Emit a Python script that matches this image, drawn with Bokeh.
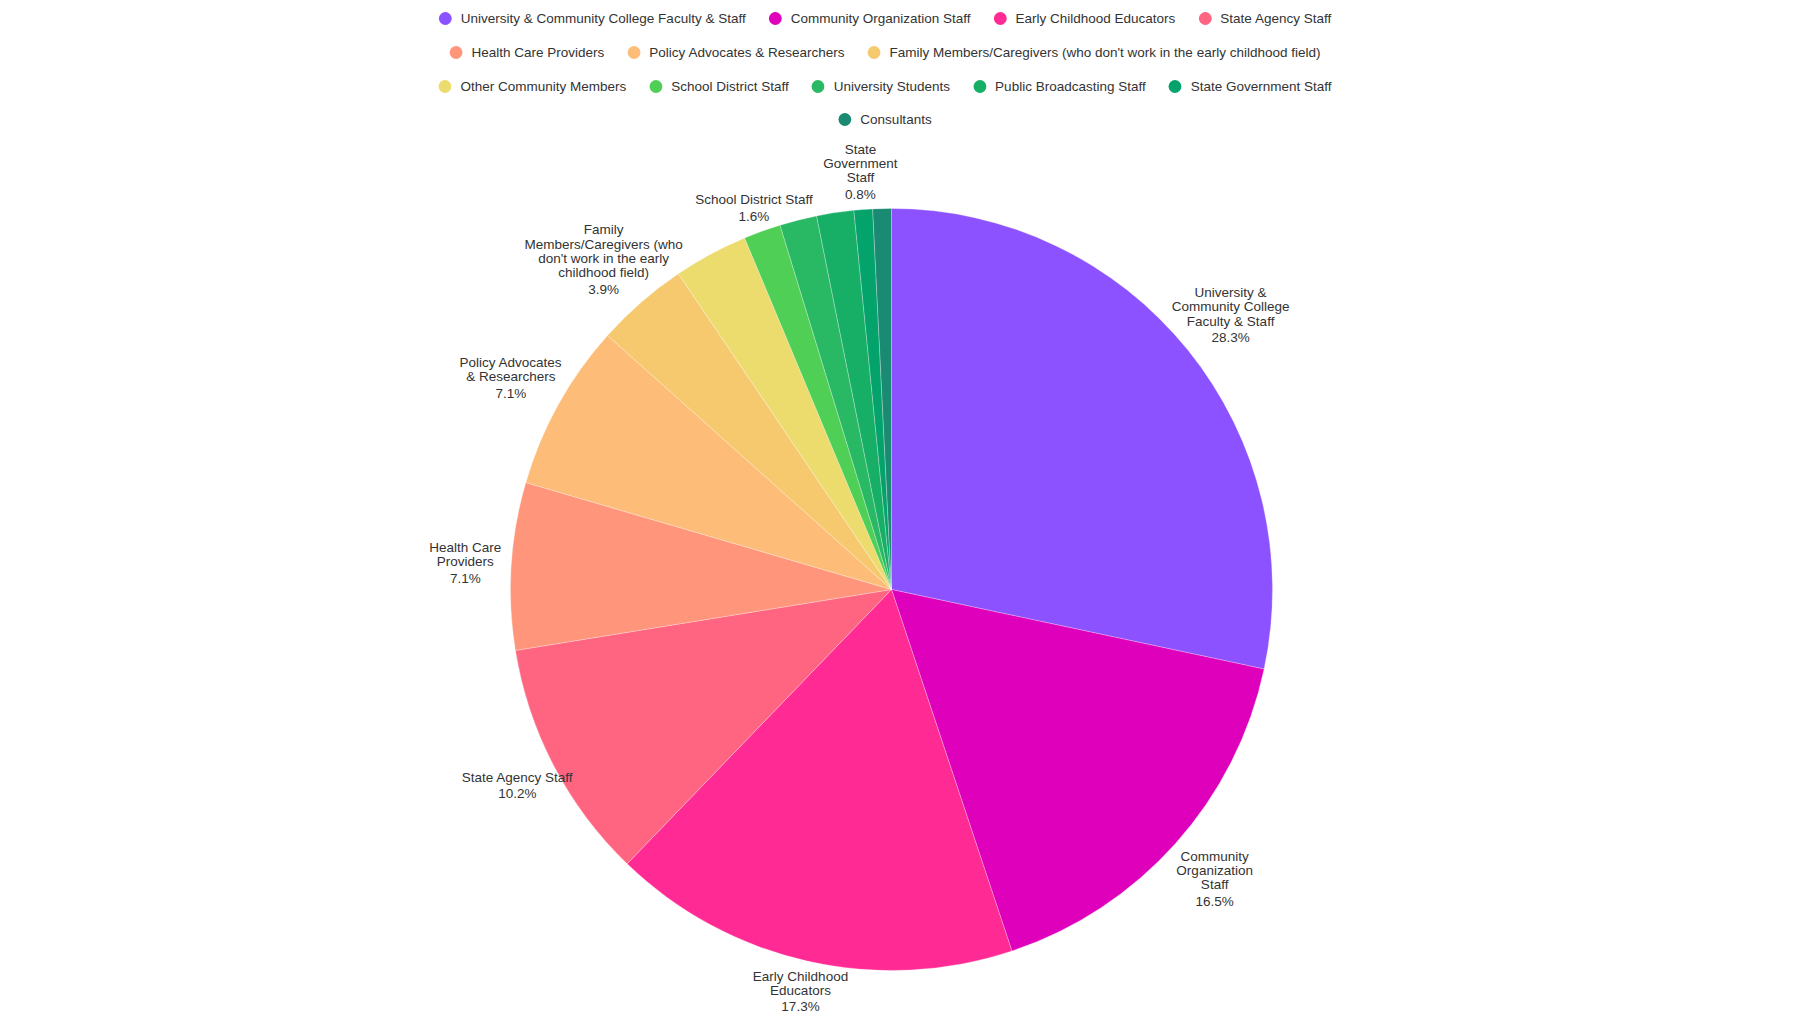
import numpy as np
from bokeh.plotting import figure
from bokeh.models import ColumnDataSource, Legend, LegendItem, Range1d
from bokeh.embed import file_html
from bokeh.resources import INLINE
from bokeh.core.properties import value

# ---------------- data ----------------
categories = [
    "University & Community College Faculty & Staff",
    "Community Organization Staff",
    "Early Childhood Educators",
    "State Agency Staff",
    "Health Care Providers",
    "Policy Advocates & Researchers",
    "Family Members/Caregivers (who don't work in the early childhood field)",
    "Other Community Members",
    "School District Staff",
    "University Students",
    "Public Broadcasting Staff",
    "State Government Staff",
    "Consultants",
]
counts = [36, 21, 22, 13, 9, 9, 5, 4, 2, 2, 2, 1, 1]
colors = [
    "#8c52ff", "#df00bb", "#ff2a93", "#ff6480", "#ff967c", "#fdbd78",
    "#f6c96f", "#ecdc6e", "#4fcf55", "#29b964", "#17ae66", "#04a36c", "#1a8b72",
]
# wrapped slice labels as they appear on the chart ("" = label not shown)
slice_labels = [
    "University &\nCommunity College\nFaculty & Staff",
    "Community\nOrganization\nStaff",
    "Early Childhood\nEducators",
    "State Agency Staff",
    "Health Care\nProviders",
    "Policy Advocates\n& Researchers",
    "Family\nMembers/Caregivers (who\ndon't work in the early\nchildhood field)",
    "",
    "School District Staff",
    "",
    "",
    "State\nGovernment\nStaff",
    "",
]
legend_row_sizes = [4, 3, 5, 1]

# ---------------- layout constants ----------------
W, H = 1760, 1016
CX, CY, R = 891, 427, 381
LABEL_GAP = 8          # distance of label box from the pie edge
FONT = "Liberation Sans"
FS = 13.5
LINE_H = 0.95
PITCH = 14.3           # name line pitch
PCT_PITCH = 16.5       # pitch between last name line and the percentage
CHAR_W = 6.9
TEXT_COLOR = "#333333"

total = sum(counts)
frac = np.array(counts, dtype=float) / total
cum = np.concatenate([[0.0], np.cumsum(frac)])
start = np.pi / 2 - 2 * np.pi * cum[:-1]
end = np.pi / 2 - 2 * np.pi * cum[1:]
mid = (start + end) / 2
pct = [f"{100 * f:.1f}%" for f in frac]

src = ColumnDataSource(dict(
    cat=categories, cnt=counts, color=colors, start=start, end=end,
    x=[CX] * len(counts), y=[CY] * len(counts),
))

p = figure(width=W, height=H, x_range=Range1d(0, W), y_range=Range1d(0, H),
           output_backend="svg", toolbar_location=None, min_border=0,
           x_axis_type=None, y_axis_type=None)
p.outline_line_color = None
p.background_fill_color = "white"
p.border_fill_color = "white"

p.wedge(x="x", y="y", radius=R, start_angle="start", end_angle="end",
        direction="clock", fill_color="color", line_color="white",
        line_width=0.6, line_alpha=0.45, source=src)

# labels: box placed along the slice's mid-angle so that its nearest edge
# lies LABEL_GAP outside the pie
nx, ny, nt, px_, py_, pt = [], [], [], [], [], []
for i, name in enumerate(slice_labels):
    if not name:
        continue
    lines = name.split("\n")
    nl = len(lines)
    hw = max(len(s) for s in lines + [pct[i]]) * CHAR_W / 2
    htot = nl * PITCH + PCT_PITCH
    hh = htot / 2
    ux, uy = np.cos(mid[i]), np.sin(mid[i])
    t = min(hw / max(abs(ux), 1e-9), hh / max(abs(uy), 1e-9))
    d = R + LABEL_GAP + t
    xc, yc = CX + d * ux, CY + d * uy
    ytop = yc + hh
    nx.append(xc)
    ny.append(ytop - nl * PITCH / 2)
    nt.append(name)
    px_.append(xc)
    py_.append(ytop - PITCH / 2 - (nl - 1) * PITCH - PCT_PITCH)
    pt.append(pct[i])

for xs, ys, ts in ((nx, ny, nt), (px_, py_, pt)):
    p.text(x=xs, y=ys, text=ts, text_align="center", text_baseline="middle",
           text_font=value(FONT), text_font_size=f"{FS}px",
           text_color=TEXT_COLOR, text_line_height=LINE_H)

# legend glyphs (circles, not drawn in plot area)
lsrc = ColumnDataSource(dict(x=[np.nan] * len(counts), y=[np.nan] * len(counts),
                             color=colors))
dots = p.scatter(x="x", y="y", marker="circle", size=12, fill_color="color",
                 line_color=None, source=lsrc)

row_centers = [18, 52, 86, 119]  # distance of each legend row centre from top
GLYPH = 32
k = 0
for row, n in enumerate(legend_row_sizes):
    items = [LegendItem(label=categories[j], renderers=[dots], index=j)
             for j in range(k, k + n)]
    k += n
    leg = Legend(items=items, orientation="horizontal", location="top_center",
                 margin=row_centers[row] - GLYPH // 2, padding=0, spacing=13,
                 label_standoff=0, glyph_width=GLYPH, glyph_height=GLYPH,
                 border_line_color=None, background_fill_alpha=0,
                 label_text_font=FONT, label_text_font_size=f"{FS}px",
                 label_text_color=TEXT_COLOR)
    p.add_layout(leg, "center")

open("out.html", "w").write(file_html(p, INLINE))
